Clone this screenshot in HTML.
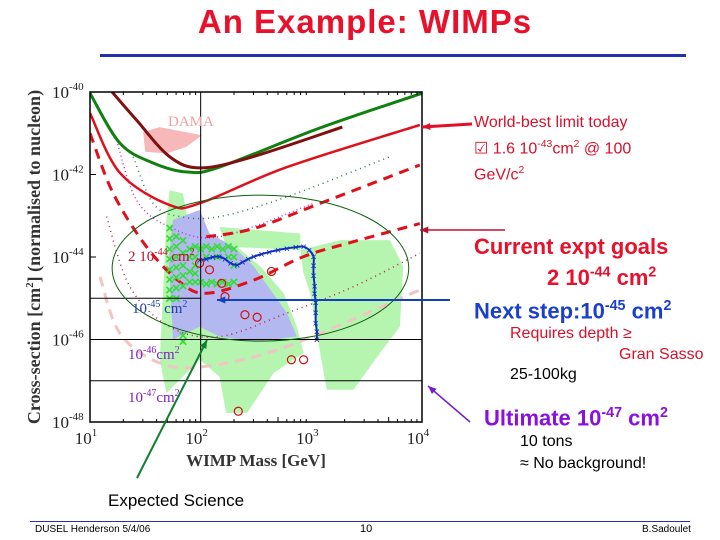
<!DOCTYPE html>
<html><head><meta charset="utf-8"><style>
body{margin:0;background:#fff;}
#slide{position:relative;width:720px;height:540px;overflow:hidden;background:#fff;font-family:"Liberation Sans",sans-serif;}
.t{position:absolute;white-space:nowrap;}
sup{font-size:65%;}
</style></head><body>
<div id="slide">
<div class="t" style="left:0;width:730px;text-align:center;top:3px;font-size:33px;font-weight:bold;color:#e8102a;letter-spacing:1px;">An Example: WIMPs</div>
<div style="position:absolute;left:100px;top:54px;width:586px;height:3px;background:#2233aa;"></div>
<svg id="chart" width="720" height="540" style="position:absolute;left:0;top:0"></svg>
<div class="t" style="left:474px;top:112px;font-size:16px;color:#d8102a;line-height:22px;">World-best limit today<br>☑ 1.6 10<sup>-43</sup>cm<sup>2</sup> @ 100<br>GeV/c<sup>2</sup></div>
<div class="t" style="left:474px;top:233px;font-size:22px;color:#e8102a;line-height:27px;font-weight:bold;">Current expt goals<br><span style="margin-left:73px">2 10<sup>-44</sup> cm<sup>2</sup></span></div>
<div class="t" style="left:474px;top:298px;font-size:22px;color:#1a3fcc;font-weight:bold;">Next step:10<sup>-45</sup> cm<sup>2</sup></div>
<div class="t" style="left:510px;top:325px;font-size:16px;color:#d8102a;">Requires depth ≥</div>
<div class="t" style="left:619px;top:346px;font-size:16px;color:#d8102a;">Gran Sasso</div>
<div class="t" style="left:510px;top:366px;font-size:16px;color:#000;">25-100kg</div>
<div class="t" style="left:484px;top:405px;font-size:22px;color:#8a10e0;font-weight:bold;">Ultimate 10<sup>-47</sup> cm<sup>2</sup></div>
<div class="t" style="left:520px;top:431px;font-size:16px;color:#000;line-height:22px;">10 tons<br>≈ No background!</div>
<div class="t" style="left:108px;top:491px;font-size:17px;color:#000;">Expected Science</div>
<div style="position:absolute;left:30px;top:521px;width:660px;height:1px;background:#2233aa;"></div>
<div class="t" style="left:35px;top:524px;font-size:10px;">DUSEL Henderson 5/4/06</div>
<div class="t" style="left:360px;top:523px;font-size:11px;">10</div>
<div class="t" style="left:642px;top:524px;font-size:10px;">B.Sadoulet</div>
</div>
<script>
const xTicks=[1,2,3,4];
const yTicks=[-40,-42,-44,-46,-48];
const damaRegion=[[1.48,-40.97],[1.63,-40.85],[2.01,-41.05],[1.87,-41.33],[1.69,-41.49],[1.5,-41.45]];
const greenRegionA=[[1.72,-42.38],[1.84,-42.46],[1.87,-42.94],[2.05,-43.43],[2.33,-43.75],[2.54,-44.23],[2.75,-44.88],[2.87,-45.69],[2.93,-46.33],[2.66,-46.81],[2.54,-47.3],[2.42,-47.78],[2.23,-47.78],[2.17,-46.9],[1.99,-46.49],[1.69,-47.3],[1.63,-46.49],[1.66,-44.88],[1.69,-43.1]];
const greenRegionB=[[2.9,-43.83],[3.26,-43.59],[3.71,-43.59],[3.83,-44.23],[3.8,-45.69],[3.62,-46.33],[3.38,-47.22],[3.14,-47.22],[3.08,-46.33],[2.99,-44.88],[2.93,-44.4]];
const greenRegionC=[[2.17,-43.27],[2.9,-43.43],[2.9,-43.83],[2.23,-43.75]];
const blueRegion=[[1.75,-43.1],[1.99,-42.86],[2.08,-43.43],[2.3,-43.75],[2.48,-44.23],[2.78,-45.36],[2.87,-45.93],[2.48,-46.05],[2.17,-45.93],[1.99,-45.69],[1.75,-46.0],[1.71,-44.07]];
const darkRedLimit=[[1.2,-40.0],[1.42,-40.68],[1.72,-41.57],[2.0,-41.84],[2.47,-41.57],[3.28,-40.85]];
const greenLimit=[[1.0,-40.03],[1.27,-41.24],[1.57,-41.72],[1.88,-41.94],[2.17,-41.82],[3.08,-40.87],[4.0,-40.03]];
const redLimit=[[1.0,-40.51],[1.27,-41.96],[1.72,-42.74],[2.0,-42.69],[2.78,-41.82],[3.98,-40.8]];
const redDashLow=[[1,-41.0],[1.21,-42.46],[1.51,-43.75],[1.81,-44.6],[2.05,-44.88],[2.48,-44.56],[2.93,-43.99],[3.38,-43.63],[3.98,-43.19]];
const redDashHigh=[[2.05,-43.51],[2.48,-43.31],[3.08,-42.7],[3.98,-41.77]];
const greenDotted=[[1.39,-41.57],[1.57,-42.7],[1.81,-43.02],[2.17,-43.02],[2.78,-42.54],[3.71,-41.57]];
const purpleDotted=[[1.24,-41.17],[1.42,-42.62],[1.72,-43.27],[2.17,-43.51],[3.02,-42.7]];
const redDotted=[[1.15,-43.02],[1.36,-44.72],[1.72,-45.69],[2.17,-45.93],[2.78,-45.36],[3.38,-44.72],[3.98,-43.91]];
const pinkDashed=[[1.09,-44.48],[1.27,-45.85],[1.63,-46.57],[2.05,-46.65],[2.78,-46.17],[3.98,-44.8]];
const blueCrosses=[[1.99,-44.07],[2.05,-44.05],[2.11,-44.0],[2.17,-43.99],[2.22,-44.05],[2.27,-44.15],[2.33,-44.19],[2.38,-44.12],[2.43,-44.05],[2.48,-43.99],[2.55,-43.93],[2.62,-43.88],[2.7,-43.83],[2.78,-43.79],[2.86,-43.76],[2.93,-43.75],[2.98,-43.83],[3.02,-43.99],[3.02,-44.2],[3.02,-44.45],[3.03,-44.7],[3.03,-44.88],[3.04,-45.1],[3.04,-45.35],[3.04,-45.6],[3.05,-45.8],[3.05,-46.0]];
const greenCrosses=[[1.72,-43.3],[1.72,-43.55],[1.72,-43.8],[1.72,-44.05],[1.72,-44.3],[1.72,-44.55],[1.72,-44.8],[1.72,-45.0],[1.78,-43.5],[1.78,-43.75],[1.78,-44.0],[1.78,-44.25],[1.78,-44.5],[1.78,-44.75],[1.78,-45.0],[1.84,-43.6],[1.84,-43.9],[1.84,-44.2],[1.84,-44.45],[1.84,-44.7],[1.84,-45.9],[1.84,-46.05],[1.9,-43.8],[1.9,-44.0],[1.9,-44.6],[1.9,-44.35],[1.95,-43.75],[2.0,-43.8],[2.05,-43.75],[2.1,-43.8],[2.15,-43.75],[2.2,-43.8],[2.25,-43.75],[2.3,-43.8],[1.95,-44.0],[2.05,-44.0],[2.15,-44.0],[2.25,-44.0],[1.95,-44.6],[2.0,-44.6],[2.05,-44.65],[2.1,-44.6],[2.15,-44.65],[2.2,-44.6],[2.25,-44.65],[2.3,-44.6],[1.95,-44.4],[1.95,-44.2],[2.3,-44.2],[2.3,-44.0]];
const redCircles=[[1.99,-44.15],[2.08,-44.31],[2.19,-44.64],[2.22,-44.96],[2.64,-44.35],[2.4,-45.4],[2.51,-45.46],[2.82,-46.49],[2.93,-46.49],[2.34,-47.74]];
const goalLevels=[-45,-46,-47];
const ellipseCenter=[2.54,-44.27];
const ellipseRadii=[1.34,1.77];

const X0=90,X1=422,Y0=92,Y1=422;
const sx=v=>X0+(v-1)/3*(X1-X0);
const sy=v=>Y0+(-40-v)/8*(Y1-Y0);
const svg=document.getElementById('chart');
const NS='http://www.w3.org/2000/svg';
function mk(tag,attrs,name){const e=document.createElementNS(NS,tag);for(const k in attrs)e.setAttribute(k,attrs[k]);


svg.appendChild(e);return e;}
const pts=a=>a.map(p=>sx(p[0]).toFixed(1)+','+sy(p[1]).toFixed(1)).join(' ');
function smooth(a){let d='M'+sx(a[0][0])+','+sy(a[0][1]);for(let i=1;i<a.length;i++){const p0=a[Math.max(i-2,0)],p1=a[i-1],p2=a[i],p3=a[Math.min(i+1,a.length-1)];
const c1=[sx(p1[0])+(sx(p2[0])-sx(p0[0]))/6,sy(p1[1])+(sy(p2[1])-sy(p0[1]))/6];const c2=[sx(p2[0])-(sx(p3[0])-sx(p1[0]))/6,sy(p2[1])-(sy(p3[1])-sy(p1[1]))/6];
d+=` C${c1[0]},${c1[1]} ${c2[0]},${c2[1]} ${sx(p2[0])},${sy(p2[1])}`;}return d;}
const clip=mk('clipPath',{id:'pc'},'plot-clip');const cr=document.createElementNS(NS,'rect');cr.setAttribute('x',X0);cr.setAttribute('y',Y0);cr.setAttribute('width',X1-X0);cr.setAttribute('height',Y1-Y0);clip.appendChild(cr);
const g=mk('g',{'clip-path':'url(#pc)'},'plot-area');
function add(tag,attrs,name){const e=mk(tag,attrs,name);g.appendChild(e);return e;}
add('polygon',{points:pts(greenRegionA),fill:'#b6f5b0'},'susy-region-green-a');
add('polygon',{points:pts(greenRegionB),fill:'#b6f5b0'},'susy-region-green-b');
add('polygon',{points:pts(greenRegionC),fill:'#b6f5b0'},'susy-region-green-c');
add('polygon',{points:pts(blueRegion),fill:'#b4b8f0'},'susy-region-blue');
add('polygon',{points:pts(damaRegion),fill:'#f6b8b8'},'dama-region');
add('path',{d:smooth(pinkDashed),fill:'none',stroke:'#f4c4c4','stroke-width':3,'stroke-dasharray':'10 7'},'pink-dashed-curve');
add('path',{d:smooth(redDotted),fill:'none',stroke:'#c02040','stroke-width':1.5,'stroke-dasharray':'1 4'},'red-dotted-curve');
add('path',{d:smooth(greenDotted),fill:'none',stroke:'#208040','stroke-width':1.5,'stroke-dasharray':'1 4'},'green-dotted-curve');
add('path',{d:smooth(purpleDotted),fill:'none',stroke:'#c030e0','stroke-width':1.5,'stroke-dasharray':'1 3'},'purple-dotted-curve');
add('path',{d:smooth(redDashLow),fill:'none',stroke:'#e0101a','stroke-width':3,'stroke-dasharray':'10 7'},'red-dashed-curve-low');
add('path',{d:smooth(redDashHigh),fill:'none',stroke:'#e0101a','stroke-width':3,'stroke-dasharray':'10 7'},'red-dashed-curve-high');
add('path',{d:smooth(redLimit),fill:'none',stroke:'#e0101a','stroke-width':2.5},'red-limit-curve');
add('path',{d:smooth(greenLimit),fill:'none',stroke:'#108010','stroke-width':3},'green-limit-curve');
add('path',{d:smooth(darkRedLimit),fill:'none',stroke:'#801010','stroke-width':3},'dark-red-limit-curve');
greenCrosses.forEach(p=>{add('text',{x:sx(p[0]),y:sy(p[1])+5,'font-size':15,'font-weight':'bold',fill:'#30e030','text-anchor':'middle','font-family':'Liberation Sans'},'green-cross').textContent='×';});
add('path',{d:smooth(blueCrosses),fill:'none',stroke:'#1030c0','stroke-width':2},'blue-cross-curve');
blueCrosses.forEach(p=>{add('text',{x:sx(p[0]),y:sy(p[1])+4,'font-size':11,fill:'#1030c0','text-anchor':'middle','font-family':'Liberation Sans'},'blue-cross').textContent='×';});
redCircles.forEach(p=>add('circle',{cx:sx(p[0]),cy:sy(p[1]),r:4,fill:'none',stroke:'#d01010','stroke-width':1.2},'red-circle-point'));
mk('line',{x1:sx(2),x2:sx(2),y1:Y0,y2:Y1,stroke:'#000','stroke-width':1},'vertical-100gev-line');
mk('line',{x1:X0,x2:sx(2),y1:sy(goalLevels[0]),y2:sy(goalLevels[0]),stroke:'#000'},'goal-line-45');
mk('line',{x1:X0,x2:X1,y1:sy(goalLevels[1]),y2:sy(goalLevels[1]),stroke:'#000'},'goal-line-46');
mk('line',{x1:X0,x2:X1,y1:sy(goalLevels[2]),y2:sy(goalLevels[2]),stroke:'#000'},'goal-line-47');
const ecx=sx(ellipseCenter[0]),ecy=sy(ellipseCenter[1]);
mk('ellipse',{cx:ecx,cy:ecy,rx:ellipseRadii[0]/3*(X1-X0),ry:ellipseRadii[1]/8*(Y1-Y0),fill:'none',stroke:'#106010','stroke-width':1},'goal-ellipse');
mk('rect',{x:X0,y:Y0,width:X1-X0,height:Y1-Y0,fill:'none',stroke:'#000','stroke-width':1.5},'plot-frame');
for(let d=1;d<4;d++)for(let k=2;k<10;k++){const x=sx(d+Math.log10(k));mk('line',{x1:x,x2:x,y1:Y1,y2:Y1-(k==5?5:3),stroke:'#000'},'x-minor-tick');mk('line',{x1:x,x2:x,y1:Y0,y2:Y0+3,stroke:'#000'},'x-minor-tick-top');}
xTicks.forEach(v=>{const t=mk('text',{x:sx(v)-4,y:444,'font-size':17,'text-anchor':'middle','font-family':'Liberation Serif',fill:'#222'},'x-tick-label');t.innerHTML='10<tspan dy="-8" font-size="11">'+v+'</tspan>';});
yTicks.forEach(v=>{const t=mk('text',{x:52,y:sy(v)+6,'font-size':17,'font-family':'Liberation Serif',fill:'#222'},'y-tick-label');t.innerHTML='10<tspan dy="-8" font-size="11">'+v+'</tspan>';mk('line',{x1:X0,x2:X0+6,y1:sy(v),y2:sy(v),stroke:'#000'},'y-tick');});
mk('text',{x:256,y:466,'font-size':17,'text-anchor':'middle','font-family':'Liberation Serif','font-weight':'bold',fill:'#333'},'x-axis-title').textContent='WIMP Mass [GeV]';
const yt=mk('text',{x:0,y:0,'font-size':18,'text-anchor':'middle','font-family':'Liberation Serif','font-weight':'bold',fill:'#333',transform:'translate(40,257) rotate(-90)'},'y-axis-title');yt.innerHTML='Cross-section [cm<tspan dy="-7" font-size="11">2</tspan><tspan dy="7">] (normalised to nucleon)</tspan>';
function lab(x,y,col,txt,name){const t=mk('text',{x:x,y:y,'font-size':15,'font-family':'Liberation Serif',fill:col},name);t.innerHTML=txt;}
lab(168,126,'#f0a0a0','DAMA','dama-label');
lab(128,261,'#c01030','2 10<tspan dy="-6" font-size="10">-44</tspan><tspan dy="6"> cm</tspan><tspan dy="-6" font-size="10">2</tspan>','goal-label-44');
lab(132,313,'#2040b0','10<tspan dy="-6" font-size="10">-45</tspan><tspan dy="6"> cm</tspan><tspan dy="-6" font-size="10">2</tspan>','goal-label-45');
lab(128,359,'#8020c0','10<tspan dy="-6" font-size="10">-46</tspan><tspan dy="6">cm</tspan><tspan dy="-6" font-size="10">2</tspan>','goal-label-46');
lab(128,402,'#8020c0','10<tspan dy="-6" font-size="10">-47</tspan><tspan dy="6">cm</tspan><tspan dy="-6" font-size="10">2</tspan>','goal-label-47');
function arrow(x1,y1,x2,y2,col,w,name){mk('line',{x1:x1,y1:y1,x2:x2,y2:y2,stroke:col,'stroke-width':w},name);const a=Math.atan2(y2-y1,x2-x1),L=9;
mk('polygon',{points:`${x2},${y2} ${x2-L*Math.cos(a-0.4)},${y2-L*Math.sin(a-0.4)} ${x2-L*Math.cos(a+0.4)},${y2-L*Math.sin(a+0.4)}`,fill:col},name+'-head');}
arrow(472,124,422,127,'#e0102a',3,'world-best-arrow');
arrow(505,230,420,230,'#c01030',1.5,'current-goal-arrow');
arrow(450,300,217,300,'#1040c0',2,'next-step-arrow');
arrow(470,422,428,386,'#7020d0',1.5,'ultimate-arrow');
arrow(137,478,207,340,'#108030',2,'expected-science-arrow');
</script>
</body></html>
